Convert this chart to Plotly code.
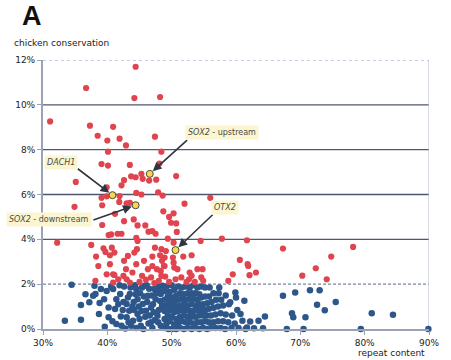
import plotly.graph_objects as go

# ---- data (repeat content %, chicken conservation %) ----
red_points = [
    (44.4, 11.7), (36.7, 10.75), (44.2, 10.3), (48.2, 10.35), (31.1, 9.26), (37.3, 9.07),
    (40.9, 9.02), (38.5, 8.62), (40.0, 8.41), (41.9, 8.49), (42.9, 8.19), (47.4, 8.58),
    (40.1, 7.91), (48.4, 7.91), (39.1, 7.36), (40.1, 7.29), (43.5, 7.32), (48.1, 7.38),
    (35.1, 6.56), (39.9, 6.32), (42.2, 6.41), (42.6, 6.64), (43.7, 6.81), (44.4, 6.77),
    (45.3, 6.92), (45.5, 6.7), (46.5, 6.62), (47.6, 6.66), (50.7, 6.82),
    (39.1, 5.85), (39.9, 5.92), (41.9, 5.93), (44.5, 6.07), (45.3, 6.0), (47.9, 6.1),
    (48.6, 5.95), (56.0, 5.85),
    (34.9, 5.45), (39.2, 5.52), (41.85, 5.67), (43.0, 5.6), (43.5, 5.63), (41.2, 5.14),
    (48.7, 5.25), (52.0, 5.59), (50.3, 5.16), (49.6, 5.0),
    (42.6, 4.81), (44.1, 4.89), (44.7, 4.62), (45.9, 4.62), (46.4, 4.34), (47.0, 4.37),
    (47.5, 4.25), (39.2, 4.64), (40.2, 4.19), (40.6, 4.22), (41.6, 4.25), (42.2, 4.25),
    (44.5, 4.07), (49.9, 4.74), (50.7, 4.71), (50.8, 4.33), (49.4, 4.03),
    (32.2, 3.85), (37.5, 3.75), (39.4, 3.6), (39.7, 3.44), (40.7, 3.63), (41.1, 3.41),
    (40.4, 3.29), (38.25, 3.23), (44.2, 3.41), (44.6, 3.56), (44.7, 3.93), (43.2, 3.26),
    (42.6, 3.04), (45.7, 3.04), (47.0, 3.23), (47.4, 3.63), (48.4, 3.56), (48.9, 3.19),
    (50.3, 3.85), (54.5, 3.93), (57.8, 4.03), (61.7, 3.96), (67.3, 3.59), (78.2, 3.66),
    (49.1, 3.48), (48.2, 3.29), (50.2, 3.19), (51.8, 3.23), (53.1, 3.29), (74.8, 3.23),
    (60.6, 3.08), (48.5, 3.04),
    (38.6, 2.81), (40.4, 2.89), (39.9, 2.44), (40.9, 2.44), (42.9, 2.67), (42.5, 2.37),
    (43.0, 2.22), (43.9, 2.52), (44.5, 2.89), (46.3, 2.67), (45.4, 2.37), (47.0, 2.81),
    (47.7, 2.67), (46.8, 2.3), (48.8, 2.81), (48.4, 2.37), (48.0, 2.15), (43.5, 2.07),
    (41.7, 2.22), (38.15, 2.15), (40.9, 2.07), (41.1, 2.41), (50.3, 2.96), (48.9, 2.81),
    (50.4, 2.74), (50.9, 2.67), (54.0, 2.67), (54.8, 2.67), (48.3, 2.59), (49.0, 2.34),
    (50.6, 2.22), (52.8, 2.52), (53.1, 2.37), (52.7, 2.22), (52.3, 2.1), (54.6, 2.3),
    (54.9, 2.15), (58.8, 2.15), (59.5, 2.44), (61.9, 2.81), (62.1, 2.4), (63.1, 2.52),
    (72.4, 2.71), (70.3, 2.38), (74.1, 2.22), (61.8, 2.9), (45.0, 2.1), (46.0, 2.2),
    (47.3, 2.05), (49.6, 2.1), (51.5, 2.3), (53.6, 2.1),
]

blue_points = [
    (33.4, 0.37), (34.45, 1.97), (35.9, 0.41), (35.9, 1.07), (37.2, 1.19), (37.8, 1.48),
    (38.0, 1.93), (38.15, 1.56), (38.7, 0.67), (38.8, 1.16), (39.0, 1.78), (39.5, 1.33),
    (39.9, 1.7), (40.2, 0.52), (40.2, 0.96), (40.6, 1.9), (40.9, 1.78), (41.2, 0.89),
    (41.4, 1.33), (41.4, 0.22), (41.7, 1.1), (42.0, 1.56), (42.1, 0.56), (42.2, 0.15),
    (42.6, 1.9), (42.8, 0.02), (36.6, 1.55), (39.6, 0.1), (40.8, 0.35), (41.9, 1.95),
    (42.5, 1.2), (42.4, 0.85),
    (43.0, 0.52), (43.0, 1.11), (43.2, 1.4), (43.4, 0.81), (43.5, 1.56), (43.7, 0.15),
    (43.9, 1.0), (44.0, 0.37), (44.3, 1.95), (44.5, 1.78), (44.5, 0.05), (44.7, 0.67),
    (44.7, 1.33), (45.0, 0.45), (45.1, 1.6), (45.2, 0.15), (45.5, 1.11), (45.6, 0.0),
    (45.8, 1.93), (45.9, 0.55), (46.0, 0.81), (46.2, 1.2), (46.3, 1.48), (46.5, 1.8),
    (46.6, 0.6), (46.8, 0.3), (46.8, 0.96), (47.0, 0.05), (47.1, 1.1), (47.3, 1.78),
    (47.4, 0.4), (47.5, 1.33), (47.6, 1.6), (47.8, 0.59), (47.9, 1.9), (48.0, 0.85),
    (48.3, 0.15), (48.3, 1.56), (48.5, 1.04), (48.6, 1.93), (48.2, 1.25), (46.1, 1.95),
    (44.2, 0.85), (45.3, 0.8), (43.6, 1.85), (44.1, 1.2), (44.9, 1.0), (45.7, 1.45),
    (46.4, 0.25), (47.2, 0.75), (47.9, 0.3), (48.1, 1.7), (45.4, 1.85), (46.9, 1.5),
    (44.4, 1.55), (43.3, 0.3),
    (48.9, 0.05), (48.9, 0.45), (48.9, 0.8), (48.9, 1.3), (48.9, 1.7),
    (49.2, 0.25), (49.2, 1.05), (49.2, 1.9), (49.4, 0.6), (49.4, 1.45), (49.5, 0.0),
    (49.7, 0.35), (49.7, 0.85), (49.7, 1.2), (49.7, 1.65),
    (50.0, 0.0), (50.0, 0.55), (50.0, 1.95), (50.1, 1.0), (50.1, 1.4),
    (50.4, 0.2), (50.4, 0.75), (50.4, 1.2), (50.4, 1.75),
    (50.7, 0.45), (50.7, 1.0), (50.7, 1.5), (50.7, 0.0),
    (51.0, 0.25), (51.0, 0.8), (51.0, 1.3), (51.0, 1.9),
    (51.3, 0.05), (51.3, 0.55), (51.3, 1.05), (51.3, 1.6),
    (51.6, 0.35), (51.6, 0.85), (51.6, 1.35), (51.6, 1.85),
    (51.9, 0.0), (51.9, 0.6), (51.9, 1.1), (51.9, 1.55),
    (52.2, 0.3), (52.2, 0.85), (52.2, 1.3), (52.2, 1.9),
    (52.5, 0.05), (52.5, 0.55), (52.5, 1.05), (52.5, 1.6),
    (52.8, 0.3), (52.8, 0.8), (52.8, 1.35), (52.8, 1.85),
    (53.1, 0.0), (53.1, 0.55), (53.1, 1.1), (53.1, 1.6),
    (53.4, 0.25), (53.4, 0.8), (53.4, 1.35), (53.4, 1.95),
    (53.7, 0.05), (53.7, 0.55), (53.7, 1.05), (53.7, 1.6),
    (54.0, 0.3), (54.0, 0.85), (54.0, 1.3), (54.0, 1.85),
    (54.3, 0.0), (54.3, 0.6), (54.3, 1.1), (54.3, 1.55),
    (54.6, 0.3), (54.6, 0.85), (54.6, 1.4), (54.6, 1.9),
    (54.9, 0.05), (54.9, 0.6), (54.9, 1.1),
    (55.2, 0.35), (55.2, 0.85), (55.2, 1.45), (55.2, 1.85),
    (55.5, 0.0), (55.5, 0.6), (55.5, 1.15),
    (55.8, 0.3), (55.8, 0.9), (55.9, 1.85), (55.8, 1.45),
    (56.1, 0.05), (56.1, 0.6), (56.2, 1.2),
    (56.5, 0.3), (56.5, 0.95), (56.5, 1.6),
    (56.8, 0.05), (56.8, 0.65), (56.9, 1.3),
    (57.2, 0.35), (57.2, 1.0), (57.4, 1.85), (57.3, 1.6),
    (57.6, 0.05), (57.6, 0.7), (57.7, 1.3),
    (58.0, 0.35), (58.0, 1.05), (58.3, 0.0), (58.4, 0.65), (58.4, 1.5),
    (58.8, 0.3), (58.9, 1.1), (59.1, 1.19), (59.3, 0.05), (59.4, 0.6),
    (59.9, 1.63), (60.0, 1.41), (59.8, 0.25), (60.2, 0.85),
    (60.7, 0.67), (61.0, 0.37), (61.3, 1.26), (61.5, 0.0), (62.2, 0.33), (62.8, 0.03),
    (63.5, 0.37), (64.2, 0.03), (64.5, 0.56), (60.4, 0.05), (61.7, 0.07),
    (67.3, 1.48), (69.2, 1.63), (71.5, 1.73), (73.0, 1.73), (72.6, 1.08), (73.8, 0.84),
    (75.5, 1.21), (68.7, 0.7), (68.9, 0.52), (70.8, 0.52), (67.9, 0.0), (70.5, 0.0),
    (79.4, 0.0), (81.1, 0.7), (84.4, 0.64), (89.9, 0.0),
]

genes = ["DACH1", "SOX2 - upstream", "SOX2 - downstream", "OTX2"]
gene_labels = ["<i>DACH1</i>", "<i>SOX2</i> - upstream", "<i>SOX2</i> - downstream", "<i>OTX2</i>"]
gene_repeat = [40.8, 46.6, 44.4, 50.6]
gene_cons = [5.97, 6.92, 5.52, 3.52]
label_repeat = [32.74, 57.8, 30.9, 58.3]
label_cons = [7.42, 8.76, 4.87, 5.42]
tail_repeat = [35.17, 52.64, 37.6, 56.6]
tail_cons = [7.2, 8.49, 4.84, 5.16]

x_ticks = [30, 40, 50, 60, 70, 80, 90]
x_tick_text = ["30%", "40%", "50%", "60%", "70%", "80%", "90%"]
y_ticks = [0, 2, 4, 6, 8, 10, 12]
y_tick_text = ["0%", "2%", "4%", "6%", "8%", "10%", "12%"]

RED = "#e0444f"
BLUE = "#2d578a"
GRID = "#4f5670"
AXIS = "#9aa2b4"

fig = go.Figure()
fig.add_trace(go.Scatter(
    x=[p[0] for p in blue_points], y=[p[1] for p in blue_points], mode="markers",
    marker=dict(color=BLUE, size=6.5, line=dict(width=0)), cliponaxis=False,
    showlegend=False, hoverinfo="skip"))
fig.add_trace(go.Scatter(
    x=[p[0] for p in red_points], y=[p[1] for p in red_points], mode="markers",
    marker=dict(color=RED, size=6.2, line=dict(width=0)), cliponaxis=False,
    showlegend=False, hoverinfo="skip"))
fig.add_trace(go.Scatter(
    x=gene_repeat, y=gene_cons, mode="markers",
    marker=dict(color="#f6d84a", size=7, line=dict(color="#4a4a3a", width=1)),
    cliponaxis=False, showlegend=False, hoverinfo="skip"))

shapes = []
for yv in [4, 6, 8, 10]:
    shapes.append(dict(type="line", xref="x", yref="y", x0=30, x1=90, y0=yv, y1=yv,
                       line=dict(color=GRID, width=1.3), layer="below"))
shapes.append(dict(type="line", xref="x", yref="y", x0=30, x1=90, y0=12, y1=12,
                   line=dict(color="#8e9cc2", width=1, dash="dot"), layer="below"))
shapes.append(dict(type="line", xref="x", yref="y", x0=30, x1=90, y0=2, y1=2,
                   line=dict(color="#7c86a0", width=1.2, dash="3px,2px"), layer="below"))
shapes.append(dict(type="line", xref="x", yref="y", x0=90, x1=90, y0=0, y1=12,
                   line=dict(color="#b4bac8", width=1), layer="below"))

annotations = []
for i in range(len(genes)):
    annotations.append(dict(
        x=gene_repeat[i], y=gene_cons[i], xref="x", yref="y",
        ax=tail_repeat[i], ay=tail_cons[i], axref="x", ayref="y",
        text="", showarrow=True, arrowhead=2, arrowsize=1.1, arrowwidth=1.6,
        arrowcolor="#2f3440", standoff=4))
    annotations.append(dict(
        x=label_repeat[i], y=label_cons[i], xref="x", yref="y",
        text=gene_labels[i], showarrow=False, bgcolor="#fbf6cf",
        font=dict(family="DejaVu Sans", size=8, color="#4a4a4a"), borderpad=2))

annotations += [
    dict(text="<b>A</b>", x=-0.06, y=1.165, xref="paper", yref="paper", xanchor="left",
         yanchor="middle", showarrow=False,
         font=dict(family="Liberation Sans", size=27, color="#111")),
    dict(text="chicken conservation", x=-0.081, y=1.064, xref="paper", yref="paper",
         xanchor="left", yanchor="middle", showarrow=False,
         font=dict(family="DejaVu Sans", size=9, color="#222")),
    dict(text="repeat content", x=0.995, y=-0.088, xref="paper", yref="paper",
         xanchor="right", yanchor="middle", showarrow=False,
         font=dict(family="DejaVu Sans", size=9, color="#222")),
]

fig.update_layout(
    width=451, height=360, margin=dict(l=43, r=13, t=60, b=30),
    plot_bgcolor="white", paper_bgcolor="white",
    shapes=shapes, annotations=annotations,
    xaxis=dict(range=[30, 90], tickmode="array", tickvals=x_ticks, ticktext=x_tick_text,
               showgrid=False, zeroline=False, showline=True, linecolor=AXIS, linewidth=1.5,
               ticks="outside", ticklen=4, tickcolor=AXIS,
               tickfont=dict(family="DejaVu Sans", size=9, color="#222")),
    yaxis=dict(range=[0, 12], tickmode="array", tickvals=y_ticks, ticktext=y_tick_text,
               showgrid=False, zeroline=False, showline=True, linecolor=AXIS, linewidth=2,
               ticks="outside", ticklen=4, tickcolor=AXIS,
               tickfont=dict(family="DejaVu Sans", size=9, color="#222")),
)

fig.write_html("out.html", config={"displayModeBar": False},
               post_script="document.body.style.margin='0';")
